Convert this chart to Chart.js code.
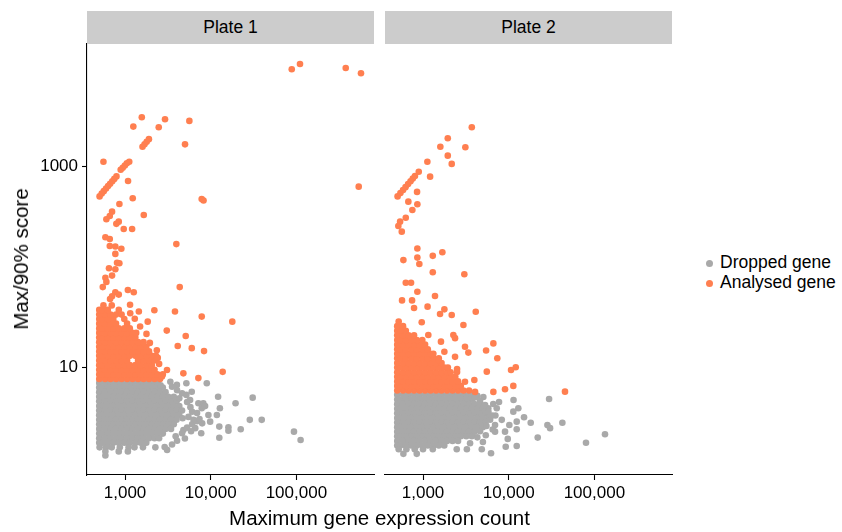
<!DOCTYPE html>
<html>
<head>
<meta charset="utf-8">
<script src="https://cdn.jsdelivr.net/npm/chart.js@4.4.1/dist/chart.umd.min.js"></script>
<style>
  html, body { margin: 0; padding: 0; background: #fff; }
  #wrap { position: relative; width: 842px; height: 532px; overflow: hidden;
          font-family: "Liberation Sans", Arial, Helvetica, sans-serif; color: #000; }
  canvas { position: absolute; top: 0; }
  .strip { position: absolute; top: 11px; height: 33px; width: 287px; background: #cccccc;
           text-align: center; line-height: 33px; font-size: 17.5px; }
  .title { position: absolute; font-size: 20.5px; white-space: nowrap; }
  .key { position: absolute; left: 704px; height: 20px; line-height: 20px; font-size: 17.5px; white-space: nowrap; }
  .key i { display: inline-block; width: 7px; height: 7px; border-radius: 50%; margin: 0 7px 0 2px; vertical-align: 1px; }
</style>
</head>
<body>
<div id="wrap">
  <canvas id="plate1" width="380" height="532" style="left:0"></canvas>
  <canvas id="plate2" width="300" height="532" style="left:380px"></canvas>
  <div class="strip" id="strip1" style="left:87px"></div>
  <div class="strip" id="strip2" style="left:385px"></div>
  <div class="title" style="left:0; width:759px; top:506px; line-height:24px; text-align:center">Maximum gene expression count</div>
  <div class="title" style="left:21px; top:259px; transform: translate(-50%, -50%) rotate(-90deg)">Max/90% score</div>
  <div class="key" id="key0" style="top:252px"></div>
  <div class="key" id="key1" style="top:272px"></div>
</div>
<script>
const panelNames = ['Plate 1', 'Plate 2'];
const seriesNames = ['Dropped gene', 'Analysed gene'];
const seriesColors = ['#a9a9a9', '#ff7f50'];
const xTicks = [1000, 10000, 100000];
const yTicks = [10, 1000];

// dense body of each cloud, one row per score level: [score, count, count, ...]
const plate1DroppedRows = [
  [6.97, 500, 585, 680, 786, 910, 1057, 1225, 1420, 1650, 1907, 2210, 2400],
  [6.28, 500, 543, 630, 730, 846, 981, 1137, 1319, 1528, 1771, 2054, 2381, 2761],
  [5.65, 500, 585, 678, 786, 912, 1057, 1225, 1420, 1645, 1907, 2210, 2563, 2970],
  [5.08, 500, 543, 630, 730, 846, 981, 1137, 1319, 1528, 1771, 2054, 2381, 2761, 3200, 3710],
  [4.57, 500, 585, 678, 786, 912, 1057, 1225, 1420, 1645, 1907, 2210, 2563, 2970, 3444, 3992],
  [4.11, 500, 543, 630, 730, 846, 981, 1137, 1319, 1528, 1771, 2054, 2381, 2761, 3200, 3710, 4300],
  [3.70, 500, 585, 678, 786, 912, 1057, 1225, 1420, 1645, 1907, 2210, 2563, 2970, 3444, 3992, 4630],
  [3.33, 500, 543, 630, 730, 846, 981, 1137, 1319, 1528, 1771, 2054, 2381, 2761, 3200, 3710, 4300],
  [3.00, 500, 585, 678, 786, 912, 1057, 1225, 1420, 1645, 1907, 2210, 2563, 2970, 3444, 3992],
  [2.70, 500, 543, 630, 730, 846, 981, 1137, 1319, 1528, 1771, 2054, 2381, 2761, 3200, 3710],
  [2.43, 500, 585, 678, 786, 912, 1057, 1225, 1420, 1645, 1907, 2210, 2563, 2970, 3444],
  [2.18, 500, 543, 630, 730, 846, 981, 1137, 1319, 1528, 1771, 2054, 2381, 2761],
  [1.96, 500, 585, 678, 786, 912, 1057, 1225, 1420, 1645, 1907, 2210, 2500],
  [1.77, 500, 543, 630, 730, 846, 981, 1137, 1319, 1528, 1771],
  [1.59, 505, 600, 700, 870, 1100, 1290, 1620, 2260],
  [1.45, 590, 845, 1080],
  [1.32, 590]
];
// scattered dropped genes: [count, score]
const plate1DroppedOut = [
  [3380, 7.18], [4030, 6.67], [5200, 6.92], [6010, 5.7], [9000, 6.92], [5200, 5.3], [5750, 4.72],
  [7180, 4.38], [8200, 4.38], [7860, 3.9], [12200, 5.09], [12800, 3.9], [11800, 3.34], [9400, 3.34],
  [9850, 2.87], [7950, 2.76], [19500, 4.38], [30900, 4.98], [12600, 2.56], [16100, 2.52], [16100, 2.33],
  [22400, 2.41], [28600, 2.99], [39400, 2.99], [12600, 1.98], [7750, 2.2], [93700, 2.28], [112000, 1.88],
  [6300, 2.99], [6600, 2.47], [4800, 2.37], [4300, 4.9], [4700, 3.1], [3900, 2.05],
  [3540, 6.4], [4050, 5.9], [4630, 5.5], [5300, 4.5], [5800, 4.0], [6070, 3.6], [5500, 3.2], [6930, 3.5],
  [6070, 2.7], [5300, 2.5], [4630, 2.2], [6930, 2.9], [4050, 1.85], [3540, 1.7], [5000, 1.95], [2900, 1.6],
  [8600, 4.1], [7400, 3.05], [5900, 2.3], [3100, 1.5], [2600, 6.6]
];
const plate1AnalysedRows = [
  [7.64, 500, 585, 678, 786, 912, 1057, 1225, 1420, 1645, 1907, 2210, 2563],
  [8.49, 500, 543, 630, 730, 846, 981, 1137, 1319, 1528, 1771, 2054, 2381, 2761],
  [9.44, 500, 585, 678, 786, 912, 1057, 1225, 1420, 1645, 1907, 2210],
  [10.5, 500, 543, 630, 730, 846, 981, 1137, 1319, 1528, 1771, 2054],
  [11.7, 500, 585, 678, 786, 912, 1057, 1420, 1645, 1907, 2210],
  [13.0, 500, 543, 630, 730, 846, 981, 1137, 1319, 1528, 1771, 2054, 2300],
  [14.4, 500, 585, 678, 786, 912, 1057, 1225, 1420, 1645, 1907],
  [16.0, 500, 543, 630, 730, 846, 981, 1137, 1319, 1528, 1771],
  [17.8, 500, 585, 678, 786, 912, 1057, 1225, 1420, 1645],
  [19.8, 500, 543, 630, 730, 846, 981, 1137, 1319],
  [22.0, 500, 585, 678, 786, 912, 1057, 1225, 1350],
  [24.4, 500, 543, 630, 730, 846, 981, 1137],
  [27.2, 500, 585, 678, 786, 1057],
  [30.2, 500, 543, 630, 730, 981],
  [33.5, 500, 585, 678, 786, 912],
  [37.3, 500, 543, 630, 846],
  [41.4, 560, 700]
];
const plate1AnalysedOut = [
  [88300, 9350], [110200, 10570], [376700, 9640], [567500, 8530], [533700, 632],
  [1570, 3110], [1250, 2510], [2930, 2970], [2475, 2470], [5635, 2860], [5015, 1670],
  [1600, 1580], [1690, 1670], [1790, 1770], [1900, 1880], [560, 1120],
  [890, 930], [940, 975], [995, 1025], [1050, 1080], [1120, 1120],
  [505, 505], [535, 540], [565, 570], [600, 605], [635, 640], [670, 675], [710, 715], [750, 755], [795, 800],
  [1085, 720], [1230, 484], [860, 425], [7850, 475], [8250, 460],
  [706, 356], [664, 322], [606, 299], [1655, 330], [845, 283], [792, 269], [966, 239], [1210, 239],
  [590, 198], [664, 190], [3970, 169], [664, 162], [771, 160], [906, 152], [771, 135],
  [807, 110], [859, 109], [650, 97], [771, 95], [706, 82], [590, 78], [606, 71], [550, 63], [4350, 63],
  [1080, 59], [1265, 56], [771, 56], [845, 53], [706, 51], [669, 48], [1145, 42], [1450, 36],
  [2200, 37], [3830, 36], [7860, 32], [17870, 28.5], [1840, 28.5], [3070, 23.2], [5110, 20.5],
  [4125, 16.3], [6010, 15.5], [8360, 14.5], [13800, 9.0], [4795, 8.7], [7180, 7.8], [3090, 9.4], [2410, 12.4],
  [2700, 8.1], [2500, 10.8], [2350, 14.8], [1950, 17.5], [1780, 21.5], [1500, 25.5], [1300, 30.5], [1150, 34.5]
];

const plate2DroppedRows = [
  [5.31, 500, 585, 678, 786, 912, 1057, 1225, 1420, 1645, 1907, 2210, 2563, 2970, 3444, 3700],
  [4.77, 500, 543, 630, 730, 846, 981, 1137, 1319, 1528, 1771, 2054, 2381, 2761, 3200, 3710],
  [4.29, 500, 585, 678, 786, 912, 1057, 1225, 1420, 1645, 1907, 2210, 2563, 2970, 3444, 3992, 4630],
  [3.86, 500, 543, 630, 730, 846, 981, 1137, 1319, 1528, 1771, 2054, 2381, 2761, 3200, 3710, 4300, 4986],
  [3.47, 500, 585, 678, 786, 912, 1057, 1225, 1420, 1645, 1907, 2210, 2563, 2970, 3444, 3992, 4630, 5366],
  [3.12, 500, 543, 630, 730, 846, 981, 1137, 1319, 1528, 1771, 2054, 2381, 2761, 3200, 3710, 4300, 4986, 5780],
  [2.81, 500, 585, 678, 786, 912, 1057, 1225, 1420, 1645, 1907, 2210, 2563, 2970, 3444, 3992, 4630, 5366],
  [2.53, 500, 543, 630, 730, 846, 981, 1137, 1319, 1528, 1771, 2054, 2381, 2761, 3200, 3710, 4300, 4986],
  [2.27, 500, 585, 678, 786, 912, 1057, 1225, 1420, 1645, 1907, 2210, 2563, 2970, 3444, 3992],
  [2.05, 500, 543, 630, 730, 846, 981, 1137, 1319, 1528, 1771, 2054, 2381, 2761, 3200, 3710],
  [1.84, 500, 585, 678, 786, 912, 1057, 1225, 1420, 1645, 1907, 2210, 2563],
  [1.66, 500, 543, 630, 730, 846, 981, 1137, 1319, 1528, 1771],
  [1.52, 520, 640, 800, 1000, 1300, 2475, 3250, 4850],
  [1.37, 590, 845]
];
const plate2DroppedOut = [
  [5060, 5.06], [7710, 4.5], [11380, 4.72], [29600, 4.83], [12950, 3.9], [11320, 3.61], [7250, 3.9],
  [5780, 3.9], [15100, 3.17], [18070, 2.8], [12400, 2.87], [10170, 2.66], [12400, 2.41], [9060, 2.28],
  [6930, 2.28], [28300, 2.66], [30400, 2.47], [42300, 2.8], [21800, 1.99], [9750, 1.93], [12400, 1.64],
  [9230, 1.61], [79800, 1.77], [133000, 2.15], [8300, 2.99], [6930, 2.66], [6220, 1.39], [4300, 5.2],
  [6400, 3.3], [5400, 2.1],
  [4050, 5.0], [4630, 4.6], [5300, 4.2], [5800, 3.6], [6070, 3.0], [5500, 2.6], [4630, 2.3], [4300, 2.0],
  [3540, 1.75], [6500, 2.4], [5000, 1.8], [7000, 3.3], [6600, 4.3]
];
const plate2AnalysedRows = [
  [5.87, 500, 585, 678, 786, 912, 1057, 1225, 1420, 1645, 1907, 2210, 2563, 2970, 3444],
  [6.52, 500, 543, 630, 730, 846, 981, 1137, 1319, 1528, 1771, 2054, 2381, 2761],
  [7.23, 500, 585, 678, 786, 912, 1057, 1225, 1420, 1645, 1907, 2210, 2563],
  [8.03, 500, 543, 630, 730, 846, 981, 1137, 1319, 1528, 1771, 2054, 2381],
  [8.93, 500, 585, 678, 786, 912, 1057, 1225, 1420, 1645, 1907, 2100],
  [9.93, 500, 543, 630, 730, 846, 981, 1137, 1319, 1528, 1771, 1950],
  [11.0, 500, 585, 678, 786, 912, 1057, 1225, 1420, 1645],
  [12.3, 500, 543, 630, 730, 846, 981, 1137, 1319, 1528],
  [13.6, 500, 585, 678, 786, 912, 1057, 1225, 1320],
  [15.1, 500, 543, 630, 730, 846, 981, 1137],
  [16.8, 500, 585, 678, 786, 912, 1057],
  [18.7, 500, 543, 630, 730, 846, 981],
  [20.8, 500, 585, 678, 786],
  [23.1, 500, 543, 630],
  [25.7, 500, 585],
  [28.6, 520]
];
const plate2AnalysedOut = [
  [3710, 2470], [1945, 1920], [1593, 1580], [3120, 1560], [1945, 1288], [2163, 1065], [1124, 1120], [892, 891],
  [505, 505], [545, 545], [585, 585], [625, 625], [670, 670], [715, 715], [760, 760], [805, 805],
  [1210, 795], [852, 560], [674, 448], [859, 422], [751, 370], [629, 310], [540, 283], [515, 256], [565, 225],
  [859, 153], [590, 117], [859, 124], [906, 107], [1300, 129], [1681, 140], [1300, 88.5], [3035, 84.5],
  [629, 69.7], [725, 69.7], [859, 56.7], [1380, 51.4], [569, 46.4], [745, 46.4], [1130, 40.2], [786, 39.0],
  [1580, 34.0], [1775, 37.8], [2163, 33.2], [4125, 35.8], [2960, 26.4], [966, 28.1], [1153, 21.0], [2259, 21.0],
  [2365, 19.5], [1620, 18.0], [3090, 16.0], [6620, 17.3], [5445, 14.7], [7360, 12.3], [3380, 14.0], [1775, 14.3],
  [2365, 12.7], [1510, 11.8], [5550, 9.04], [10650, 9.4], [12080, 10.0], [2497, 9.62], [2497, 8.97], [3970, 7.46],
  [6620, 5.68], [9060, 6.04], [11320, 6.52], [3090, 7.18], [45400, 5.71], [4050, 5.68]
];

const FONT = '"Liberation Sans", Arial, Helvetica, sans-serif';
const X_MIN = 360, X_MAX = 805000;
const Y_MIN = 0.843, Y_MAX = 16710;

function toPoints(rows, singles) {
  const pts = [];
  rows.forEach(r => r.slice(1).forEach(c => pts.push({ x: c, y: r[0] })));
  singles.forEach(p => pts.push({ x: p[0], y: p[1] }));
  return pts;
}

function makePanel(id, dropped, analysed, showY, pad) {
  const axisGrid = { drawOnChartArea: false, drawTicks: true, tickLength: 5, tickColor: '#000', tickWidth: 1.1 };
  const axisBorder = { display: true, color: '#000', width: 1.1 };
  const tickFont = { family: FONT, size: 17 };
  return new Chart(document.getElementById(id), {
    type: 'scatter',
    data: {
      datasets: [
        // analysed genes sit above the dropped ones
        { label: seriesNames[1], data: analysed, backgroundColor: seriesColors[1] },
        { label: seriesNames[0], data: dropped, backgroundColor: seriesColors[0] }
      ]
    },
    options: {
      responsive: false,
      animation: false,
      events: [],
      layout: { padding: pad },
      elements: { point: { radius: 3.3, hoverRadius: 3.3, borderWidth: 0 } },
      plugins: { legend: { display: false }, tooltip: { enabled: false } },
      scales: {
        x: {
          type: 'logarithmic', min: X_MIN, max: X_MAX,
          afterBuildTicks: s => { s.ticks = xTicks.map(v => ({ value: v })); },
          afterFit: s => { s.height = 57; },
          ticks: { callback: v => Number(v).toLocaleString('en-US'), font: tickFont, color: '#000',
                   padding: 3, maxRotation: 0, autoSkip: false },
          grid: axisGrid, border: axisBorder
        },
        y: {
          type: 'logarithmic', min: Y_MIN, max: Y_MAX, display: showY,
          afterBuildTicks: s => { s.ticks = yTicks.map(v => ({ value: v })); },
          afterFit: s => { s.width = showY ? 87 : 0; },
          ticks: { callback: v => String(v), font: tickFont, color: '#000', padding: 4, autoSkip: false },
          grid: axisGrid, border: axisBorder
        }
      }
    }
  });
}

makePanel('plate1', toPoints(plate1DroppedRows, plate1DroppedOut), toPoints(plate1AnalysedRows, plate1AnalysedOut),
          true, { left: 0, right: 6, top: 44, bottom: 0 });
makePanel('plate2', toPoints(plate2DroppedRows, plate2DroppedOut), toPoints(plate2AnalysedRows, plate2AnalysedOut),
          false, { left: 5, right: 8, top: 44, bottom: 0 });

document.getElementById('strip1').textContent = panelNames[0];
document.getElementById('strip2').textContent = panelNames[1];
seriesNames.forEach((name, i) => {
  const el = document.getElementById('key' + i);
  el.innerHTML = '<i style="background:' + seriesColors[i] + '"></i>' + name;
});
</script>
</body>
</html>
